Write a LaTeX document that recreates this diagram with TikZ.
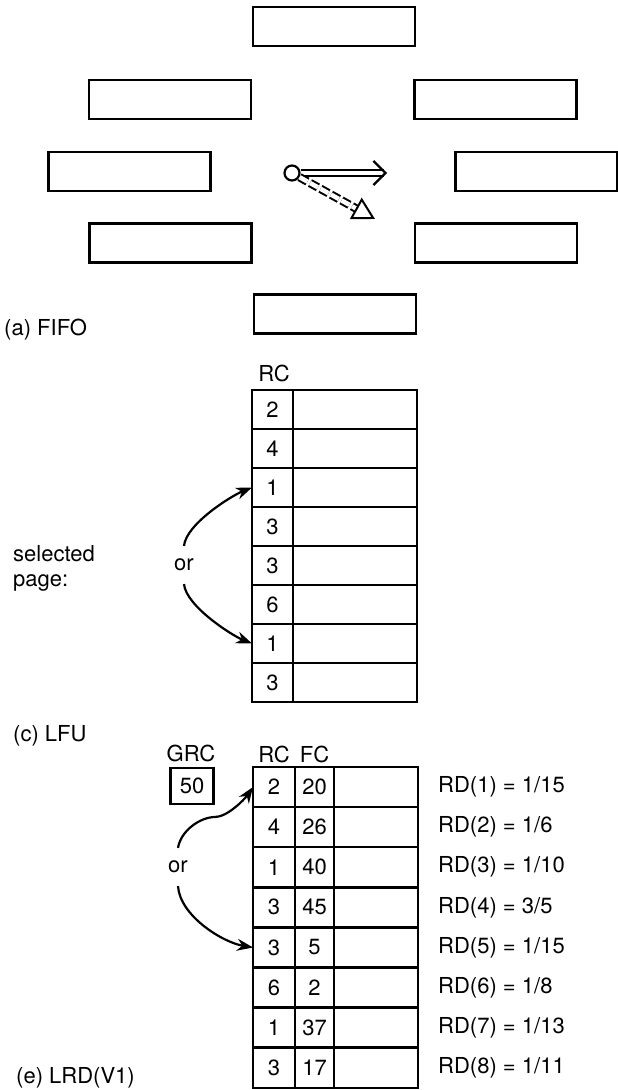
\documentclass[tikz,border=0pt]{standalone}
\usepackage{fontspec}
\setmainfont{TeX Gyre Heros}
\usetikzlibrary{arrows.meta,positioning}

\begin{document}
\begin{tikzpicture}[x=1pt,y=1pt,
  font=\fontsize{22}{25}\selectfont,
  slot/.style={draw,line width=2.5pt,minimum width=162pt,minimum height=39pt,inner sep=0pt},
  cell/.style={draw,line width=2.5pt,minimum height=39pt,inner sep=0pt,outer sep=0pt},
  orlabel/.style={inner sep=0pt,outer sep=13pt},
  pick/.style={line width=2.2pt,-{Stealth[length=16pt,width=12pt]}}]
\useasboundingbox (0,0) rectangle (618,-1090);

% (a) FIFO
\node[slot] (s1) at (334,-26.5) {};
\node[slot] (s2) at (170,-99.5) {};
\node[slot] (s3) at (495.5,-99.5) {};
\node[slot] (s4) at (129.5,-171.5) {};
\node[slot] (s5) at (536.5,-171.5) {};
\node[slot] (s6) at (170.5,-243) {};
\node[slot] (s7) at (496,-243) {};
\node[slot] (s8) at (335,-314) {};
\node[circle,draw,line width=2.2pt,minimum size=15pt,inner sep=0pt] (ptr) at (292,-173) {};
\coordinate (next) at (387,-173);
\coordinate (nextd) at (375,-219);
\draw[double,double distance=4.5pt,line width=2pt,-{Straight Barb[length=12pt,width=24pt,line width=2.2pt]}] (ptr.east) -- (next);
\draw[double,double distance=4.5pt,line width=2pt,dash pattern=on 9pt off 3pt,-{Triangle[open,length=22pt,width=24pt]}] (ptr.-29) -- (nextd);
\node[anchor=west,inner sep=0pt] (capa) at (4,-330) {(a) FIFO};

% (c) LFU
\node (rc1) at (274,-373) {RC};
\foreach \v [count=\i] in {2,4,1,3,3,6,1,3}
{
  \node[cell,minimum width=41pt] (l\i) at (272.5,{-390-39*(\i-0.5)}) {\v};
  \node[cell,minimum width=124pt,right=0pt of l\i] (lp\i) {};
}
\node[anchor=west,align=left,inner sep=0pt] (sel1) at (13,-568) {selected\\page:};
\node[orlabel] (or1) at (184,-565) {or};
\draw[pick] (or1.north) .. controls +(2,22) and +(-20,-8) .. (l3.west);
\draw[pick] (or1.south) .. controls +(2,-22) and +(-20,8) .. (l7.west);
\node[anchor=west,inner sep=0pt] (capc) at (13,-736) {(c) LFU};

% (e) LRD(V1)
\node (grc) at (191,-753) {GRC};
\node[draw,line width=2.5pt,minimum width=43pt,minimum height=36pt,inner sep=0pt] (gval) at (192,-786) {50};
\node (rc2) at (274,-754) {RC};
\node (fc) at (314.5,-754) {FC};
\foreach \rcv/\fcv/\num/\den [count=\i] in {2/20/1/15,4/26/1/6,1/40/1/10,3/45/3/5,3/5/1/15,6/2/1/8,1/37/1/13,3/17/1/11}
{
  \node[cell,minimum width=42pt,minimum height=40.1pt] (r\i) at (274,{-767-40.1*(\i-0.5)}) {\rcv};
  \node[cell,minimum width=39pt,minimum height=40.1pt,right=0pt of r\i] (f\i) {\fcv};
  \node[cell,minimum width=84pt,minimum height=40.1pt,right=0pt of f\i] (p\i) {};
  \node[anchor=west,inner sep=0pt] (rd\i) at (438,{-767-40.1*(\i-0.5)}) {RD(\i) = \num/\den};
}
\node[orlabel] (or2) at (178,-867) {or};
\coordinate (bend) at (215,-817);
\draw[pick] (or2.north) .. controls +(3,18) and +(-14,0) .. (bend) .. controls +(12,0) and +(-9,-13) .. (r1.west);
\draw[pick] (or2.south) .. controls +(2,-30) and +(-30,5) .. (r5.west);
\node[anchor=west,inner sep=0pt] (cape) at (16,-1078) {(e) LRD(V1)};
\end{tikzpicture}
\end{document}
